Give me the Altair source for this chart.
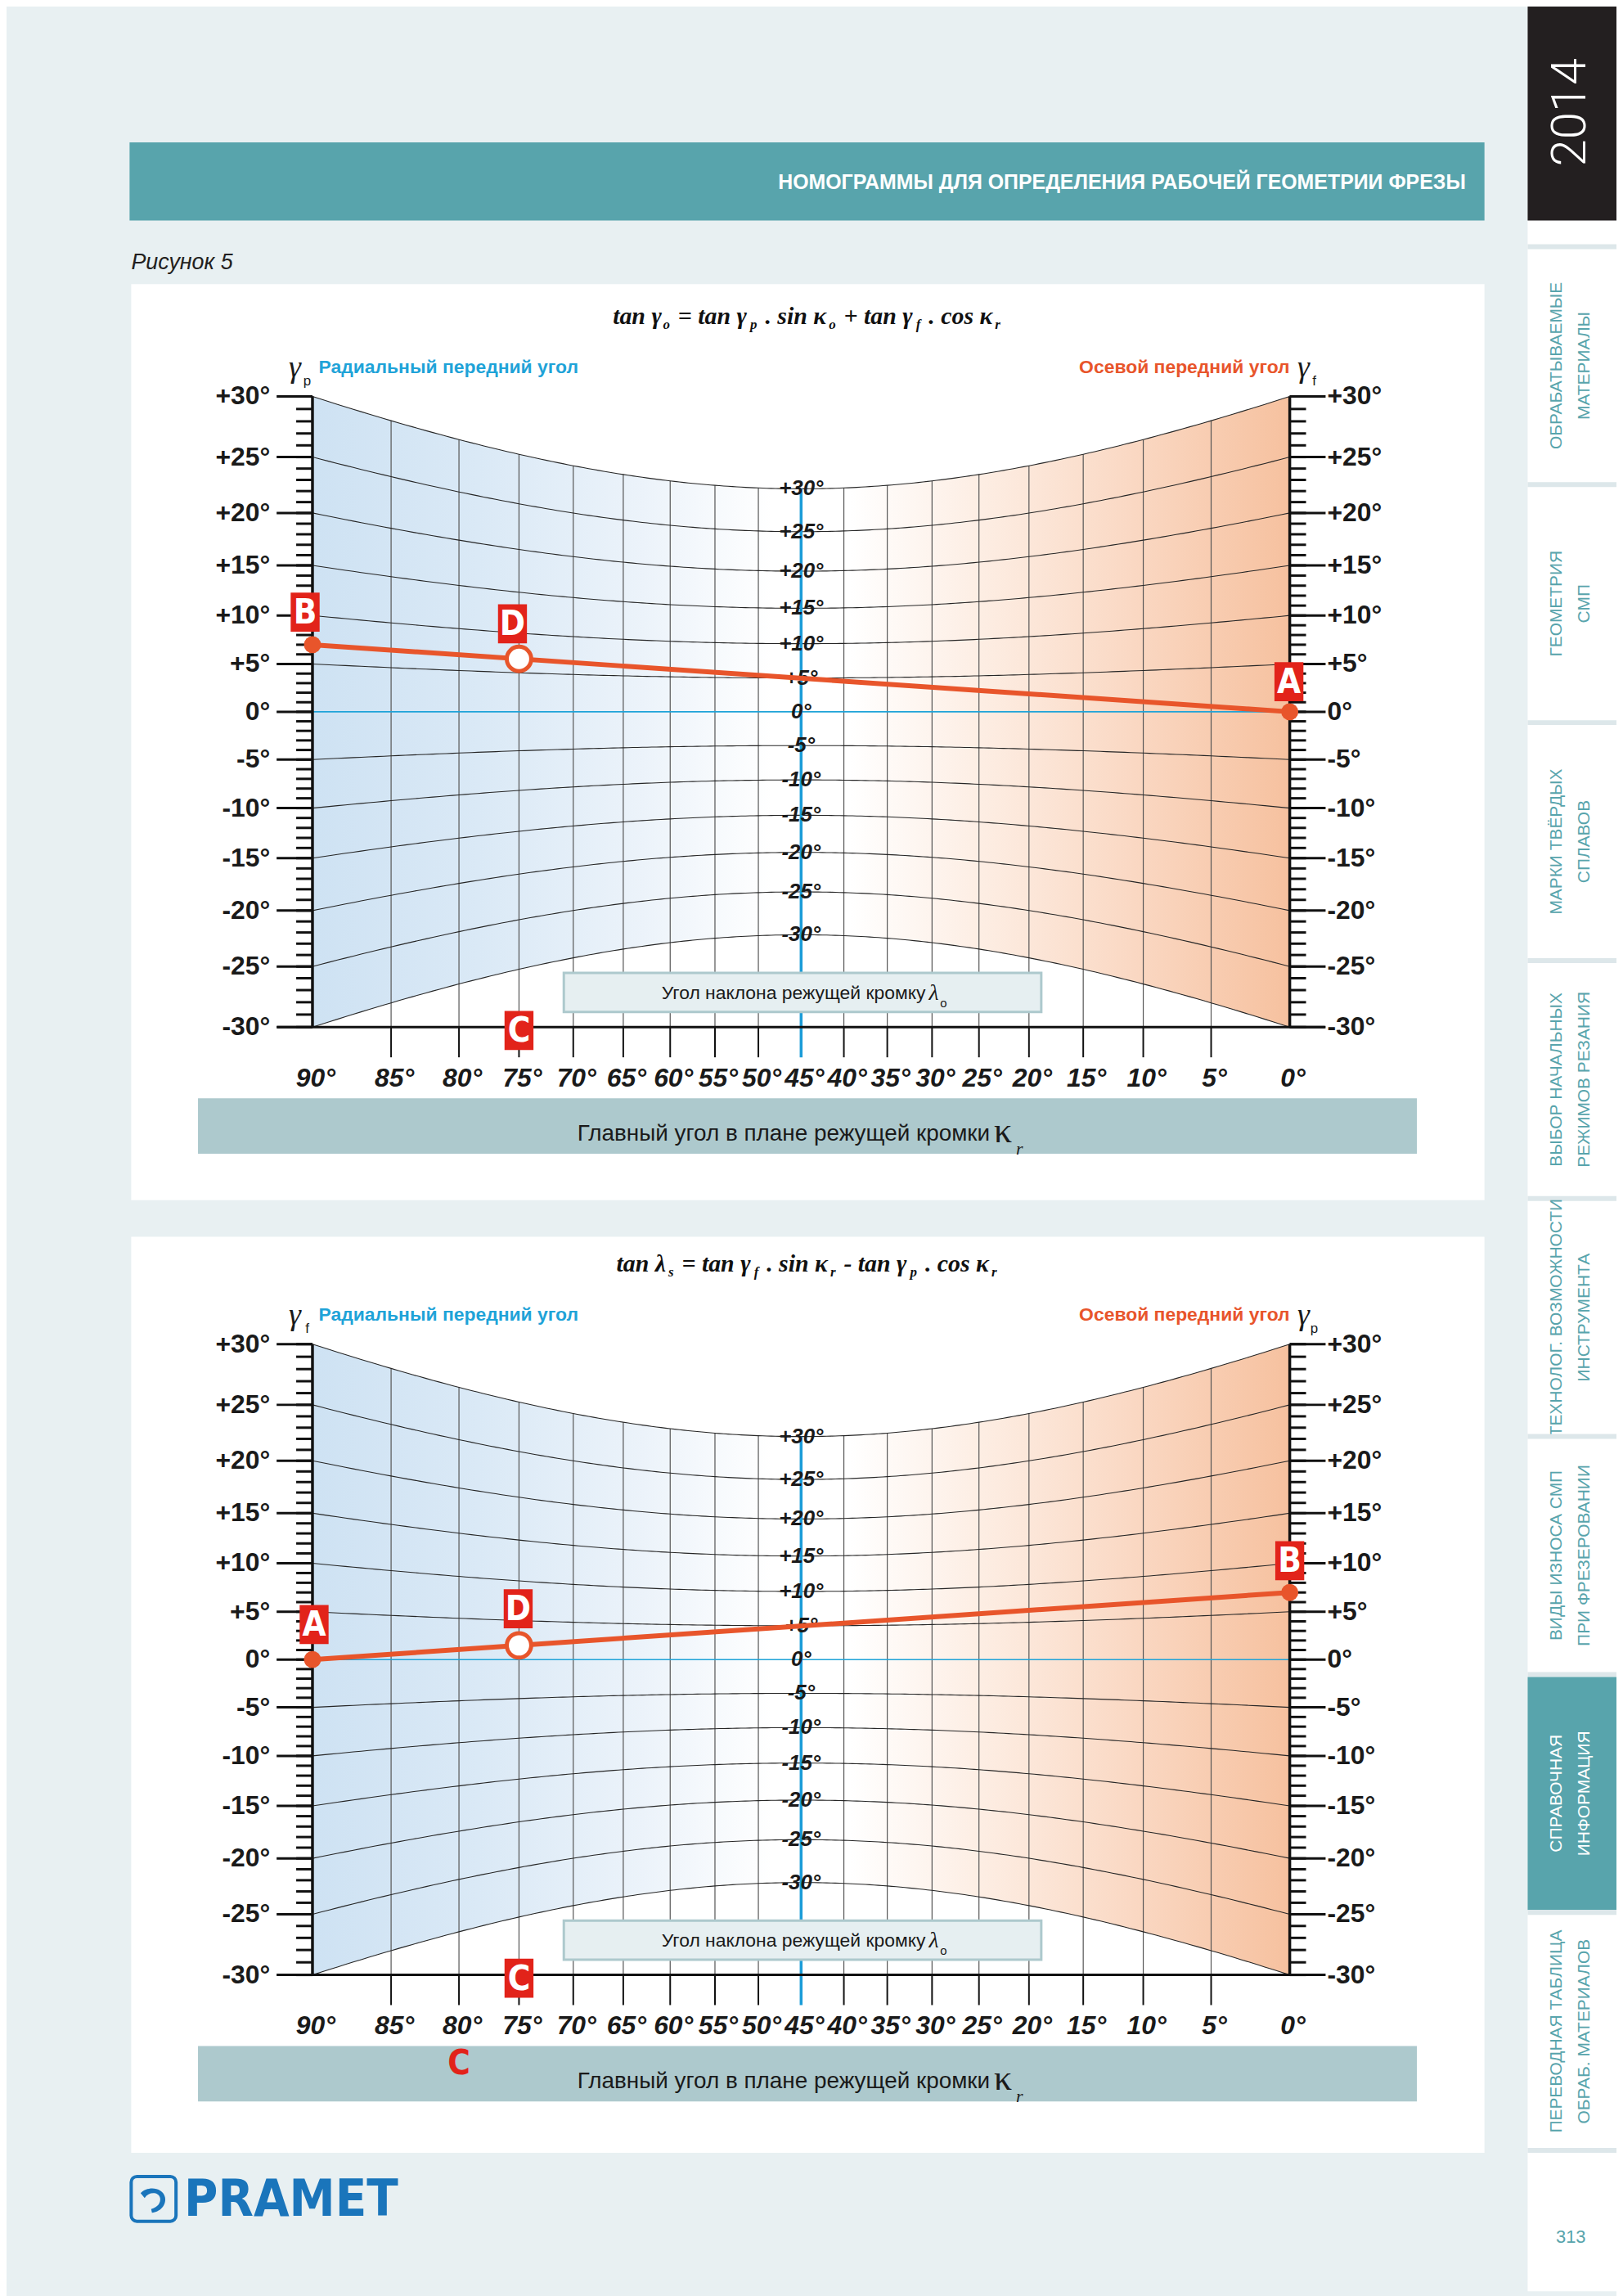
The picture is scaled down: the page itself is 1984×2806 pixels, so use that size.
import math
import pandas as pd
import altair as alt

# ---------------- values ----------------
KAPPA_TICKS = [90, 85, 80, 75, 70, 65, 60, 55, 50, 45, 40, 35, 30, 25, 20, 15, 10, 5, 0]
KAPPA_LABELS = ["90°", "85°", "80°", "75°", "70°", "65°", "60°", "55°", "50°", "45°",
                "40°", "35°", "30°", "25°", "20°", "15°", "10°", "5°", "0°"]
GAMMA_MAJOR = [30, 25, 20, 15, 10, 5, 0, -5, -10, -15, -20, -25, -30]
GAMMA_LABELS = ["+30°", "+25°", "+20°", "+15°", "+10°", "+5°", "0°",
                "-5°", "-10°", "-15°", "-20°", "-25°", "-30°"]
GAMMA_MINOR = list(range(-30, 31))
KAPPA_SAMPLES = [k / 2 for k in range(0, 181)]   # sampling of the nomogram construction curves

# worked examples (left-axis angle, right-axis angle, kappa of point D, kappa of C)
EX1 = {"left": 7, "right": 0, "d": 75, "c": 75}
EX2 = {"left": 0, "right": 7, "d": 75, "c": 75, "c_extra": 80}

FORMULA1 = [("tan γ", "m"), ("o", "s"), (" = tan γ", "m"), ("p", "s"), (" . sin κ", "m"), ("o", "s"),
            (" + tan γ", "m"), ("f", "s"), (" . cos κ", "m"), ("r", "s")]
FORMULA2 = [("tan λ", "m"), ("s", "s"), (" = tan γ", "m"), ("f", "s"), (" . sin κ", "m"), ("r", "s"),
            (" - tan γ", "m"), ("p", "s"), (" . cos κ", "m"), ("r", "s")]

TABS = [("ОБРАБАТЫВАЕМЫЕ", "МАТЕРИАЛЫ"), ("ГЕОМЕТРИЯ", "СМП"), ("МАРКИ ТВЁРДЫХ", "СПЛАВОВ"),
        ("ВЫБОР НАЧАЛЬНЫХ", "РЕЖИМОВ РЕЗАНИЯ"), ("ТЕХНОЛОГ. ВОЗМОЖНОСТИ", "ИНСТРУМЕНТА"),
        ("ВИДЫ ИЗНОСА СМП", "ПРИ ФРЕЗЕРОВАНИИ"), ("СПРАВОЧНАЯ", "ИНФОРМАЦИЯ"),
        ("ПЕРЕВОДНАЯ ТАБЛИЦА", "ОБРАБ. МАТЕРИАЛОВ")]
ACTIVE_TAB = 6
PAGE_NO = "313"
YEAR = "2014"

# ---------------- styles / geometry ----------------
W, H = 1976, 2798
BG = "#e8f0f2"
TEAL = "#58a4ac"
DARK = "#231f20"
RED_LINE = "#e8552b"
RED_BOX = "#e2231a"
CYAN = "#1fa3d8"
BLUE45 = "#1b9cd8"
BAR = "#adc9cd"
BOXFILL = "#e6eff1"
LOGO = "#1a75bb"
SANS = "Liberation Sans, Arial, sans-serif"
COND = "DejaVu Sans Condensed, Liberation Sans, sans-serif"
SERIF = "Liberation Serif, Times New Roman, serif"

AX_L, AX_R = 383.5, 1583.0
K = 670.3          # pixels per unit of tan on the nomogram scales
Y0 = 867.7         # page y of 0° in the first nomogram
DY2 = 1163         # vertical shift of the second nomogram
T30 = math.tan(math.radians(30))


def P(v):
    return v - 8


def t_of(k):
    r = math.radians(k)
    return math.cos(r) / (math.sin(r) + math.cos(r))


def sc_of(k):
    r = math.radians(k)
    return math.sin(r) + math.cos(r)


def tn(g):
    return math.tan(math.radians(g))


ONE = pd.DataFrame({"one": [1]})


def vrect(x1, y1, x2, y2, **kw):
    return alt.Chart(ONE).mark_rect(**kw).encode(
        x=alt.value(P(x1)), x2=alt.value(P(x2)), y=alt.value(P(y1)), y2=alt.value(P(y2)))


def vtext(x, y, s, **kw):
    kw.setdefault("baseline", "middle")
    return alt.Chart(ONE).mark_text(**kw).encode(
        x=alt.value(P(x)), y=alt.value(P(y)), text=alt.value(s))


EM = {'t': 0.278, 'a': 0.5, 'n': 0.556, ' ': 0.33, '=': 0.57, '.': 0.25, 's': 0.389, 'i': 0.278,
      'c': 0.444, 'o': 0.5, '+': 0.57, '-': 0.333, 'γ': 0.39, 'κ': 0.47, 'λ': 0.46, 'p': 0.5,
      'f': 0.333, 'r': 0.389}


def formula_layers(pieces, cx, cy):
    ms, ss = 30, 17
    widths = [sum(EM.get(ch, 0.5) for ch in s) * (ms if kind == "m" else ss) for s, kind in pieces]
    x = cx - sum(widths) / 2
    out = []
    for (s, kind), w in zip(pieces, widths):
        size = ms if kind == "m" else ss
        lead = len(s) - len(s.lstrip(" "))
        xs = x + lead * EM[' '] * size
        if kind == "m":
            out.append(vtext(xs, cy, s.strip(), align="left", baseline="alphabetic", font=SERIF,
                             fontStyle="italic", fontWeight="bold", fontSize=ms, color="#111"))
        else:
            out.append(vtext(xs, cy + 6, s.strip(), align="left", baseline="alphabetic", font=SERIF,
                             fontStyle="italic", fontWeight="bold", fontSize=ss, color="#111"))
        x += w
    return out


GRAD = alt.Gradient(
    gradient="linear", x1=0, x2=1, y1=0, y2=0,
    stops=[alt.GradientStop(color="#cee2f3", offset=0), alt.GradientStop(color="#dae9f6", offset=0.17),
           alt.GradientStop(color="#ecf3fa", offset=0.34), alt.GradientStop(color="#ffffff", offset=0.47),
           alt.GradientStop(color="#ffffff", offset=0.55), alt.GradientStop(color="#fdeee4", offset=0.68),
           alt.GradientStop(color="#fad8c3", offset=0.84), alt.GradientStop(color="#f6c19f", offset=1)])

BOX_SHAPE = "M-0.74,-1L0.74,-1L0.74,1L-0.74,1Z"


def panel(dy, ex, left_sym, right_sym, formula, letters):
    y0 = Y0 + dy
    XS = alt.Scale(domain=[0, 1], range=[P(AX_L), P(AX_R)], nice=False, zero=False)
    YS = alt.Scale(domain=[-1, 1], range=[P(y0 + K), P(y0 - K)], nice=False, zero=False)

    def X(f="t"):
        return alt.X(f"{f}:Q", scale=XS, axis=None)

    def Y(f="y"):
        return alt.Y(f"{f}:Q", scale=YS, axis=None)

    L = []
    # shaded field between the +30° and -30° curves
    shade = pd.DataFrame({"t": [t_of(k) for k in KAPPA_SAMPLES],
                          "y": [T30 / sc_of(k) for k in KAPPA_SAMPLES],
                          "y2": [-T30 / sc_of(k) for k in KAPPA_SAMPLES]})
    L.append(alt.Chart(shade).mark_area(color=GRAD, opacity=1).encode(x=X(), y=Y(), y2=alt.Y2("y2")))

    # vertical kappa lines
    inner = [k for k in KAPPA_TICKS if k not in (0, 45, 90)]
    vgrid = pd.DataFrame({"t": [t_of(k) for k in inner], "y": [T30 / sc_of(k) for k in inner],
                          "y2": [-T30] * len(inner)})
    L.append(alt.Chart(vgrid).mark_rule(color="#555", strokeWidth=1.2).encode(x=X(), y=Y(), y2=alt.Y2("y2")))
    L.append(alt.Chart(vgrid).mark_rule(color="#111", strokeWidth=2).encode(
        x=X(), y=alt.Y("y2:Q", scale=YS, axis=None), y2=alt.value(P(y0 + K * T30 + 37))))

    # gamma_o curves
    rows = []
    for g in GAMMA_MAJOR:
        if g == 0:
            continue
        for k in KAPPA_SAMPLES:
            rows.append({"g": g, "t": t_of(k), "y": tn(g) / sc_of(k)})
    curves = pd.DataFrame(rows)
    L.append(alt.Chart(curves).mark_line(color="#262626", strokeWidth=1.1).encode(
        x=X(), y=Y(), detail="g:N"))

    # zero line, 45° line, baseline
    L.append(alt.Chart(pd.DataFrame({"y": [0.0]})).mark_rule(color=CYAN, strokeWidth=1.6).encode(
        x=alt.value(P(340)), x2=alt.value(P(1626)), y=Y()))
    b45 = pd.DataFrame({"t": [0.5], "y": [T30 / sc_of(45)]})
    L.append(alt.Chart(b45).mark_rule(color=BLUE45, strokeWidth=3.5).encode(
        x=X(), y=Y(), y2=alt.value(P(y0 + K * T30 + 37))))
    L.append(alt.Chart(pd.DataFrame({"y": [-T30]})).mark_rule(color="#111", strokeWidth=3).encode(
        x=alt.value(P(340)), x2=alt.value(P(1626)), y=Y()))

    # the two vertical scales
    axl = pd.DataFrame({"y": [T30], "y2": [-T30]})
    for ax in (AX_L, AX_R):
        L.append(alt.Chart(axl).mark_rule(color="#111", strokeWidth=3.5).encode(
            x=alt.value(P(ax)), y=Y(), y2=alt.Y2("y2")))
    minor = pd.DataFrame({"y": [tn(g) for g in GAMMA_MINOR]})
    major = pd.DataFrame({"y": [tn(g) for g in GAMMA_MAJOR], "label": GAMMA_LABELS})
    L.append(alt.Chart(minor).mark_rule(color="#111", strokeWidth=3).encode(
        x=alt.value(P(AX_L - 20)), x2=alt.value(P(AX_L)), y=Y()))
    L.append(alt.Chart(minor).mark_rule(color="#111", strokeWidth=3).encode(
        x=alt.value(P(AX_R)), x2=alt.value(P(AX_R + 20)), y=Y()))
    L.append(alt.Chart(major).mark_rule(color="#111", strokeWidth=3).encode(
        x=alt.value(P(AX_L - 44)), x2=alt.value(P(AX_L)), y=Y()))
    L.append(alt.Chart(major).mark_rule(color="#111", strokeWidth=3).encode(
        x=alt.value(P(AX_R)), x2=alt.value(P(AX_R + 44)), y=Y()))
    L.append(alt.Chart(major).mark_text(align="right", baseline="middle", font=SANS, fontWeight="bold",
                                        fontSize=32, color="#1a1a1a").encode(
        x=alt.value(P(AX_L - 52)), y=Y(), text="label:N"))
    L.append(alt.Chart(major).mark_text(align="left", baseline="middle", font=SANS, fontWeight="bold",
                                        fontSize=32, color="#1a1a1a").encode(
        x=alt.value(P(AX_R + 46)), y=Y(), text="label:N"))

    # labels along the 45° line
    cl = pd.DataFrame({"t": [0.5] * len(GAMMA_MAJOR),
                       "y": [tn(g) / sc_of(45) for g in GAMMA_MAJOR], "label": GAMMA_LABELS})
    L.append(alt.Chart(cl).mark_text(align="center", baseline="middle", font=SANS, fontWeight="bold",
                                     fontStyle="italic", fontSize=26, color="#1a1a1a").encode(
        x=X(), y=Y(), text="label:N"))

    # kappa labels
    kl = pd.DataFrame({"t": [t_of(k) for k in KAPPA_TICKS], "label": KAPPA_LABELS})
    L.append(alt.Chart(kl).mark_text(align="center", baseline="middle", font=SANS, fontWeight="bold",
                                     fontStyle="italic", fontSize=32, dx=4, color="#1a1a1a").encode(
        x=X(), y=alt.value(P(y0 + 450)), text="label:N"))

    # titles and symbols
    L.append(vtext(362, 446 + dy, "γ", align="center", font=SERIF, fontStyle="italic", fontSize=38, color="#1a1a1a"))
    L.append(vtext(377, 462 + dy, left_sym, align="center", font=SANS, fontSize=17, color="#1a1a1a"))
    L.append(vtext(391, 445 + dy, "Радиальный передний угол", align="left", font=SANS, fontWeight="bold",
                   fontSize=23, color=CYAN))
    L.append(vtext(1600, 446 + dy, "γ", align="center", font=SERIF, fontStyle="italic", fontSize=38, color="#1a1a1a"))
    L.append(vtext(1613, 462 + dy, right_sym, align="center", font=SANS, fontSize=17, color="#1a1a1a"))
    L.append(vtext(1583, 445 + dy, "Осевой передний угол", align="right", font=SANS, fontWeight="bold",
                   fontSize=23, color=RED_LINE))
    L.extend(formula_layers(formula, 990, 392 + dy))

    # lambda box
    L.append(vrect(692, 1188 + dy, 1278, 1236 + dy, fill=BOXFILL, stroke=BAR, strokeWidth=3))
    L.append(vtext(1136, 1213 + dy, "Угол наклона режущей кромку", align="right", font=SANS, fontSize=23, color="#1a1a1a"))
    L.append(vtext(1140, 1213 + dy, "λ", align="left", font=SERIF, fontStyle="italic", fontSize=28, color="#1a1a1a"))
    L.append(vtext(1154, 1225 + dy, "o", align="left", font=SANS, fontSize=15, color="#1a1a1a"))

    # kappa bar
    L.append(vrect(243, 1342 + dy, 1739, 1410 + dy, fill=BAR))
    L.append(vtext(1215, 1386 + dy, "Главный угол в плане режущей кромки", align="right", font=SANS,
                   fontSize=28, color="#1a1a1a"))
    L.append(vtext(1220, 1383 + dy, "κ", align="left", font=SERIF, fontSize=44, color="#1a1a1a"))
    L.append(vtext(1247, 1404 + dy, "r", align="left", font=SERIF, fontStyle="italic", fontSize=22, color="#1a1a1a"))

    # worked example line
    gl, gr, kd = ex["left"], ex["right"], ex["d"]
    line = pd.DataFrame({"t": [0.0, 1.0], "y": [tn(gl), tn(gr)]})
    L.append(alt.Chart(line).mark_line(color=RED_LINE, strokeWidth=6).encode(x=X(), y=Y()))
    L.append(alt.Chart(line).mark_circle(color=RED_LINE, size=440, opacity=1).encode(x=X(), y=Y()))
    rd = math.radians(kd)
    d_y = (tn(gl) * math.sin(rd) + tn(gr) * math.cos(rd)) / sc_of(kd)
    dpt = pd.DataFrame({"t": [t_of(kd)], "y": [d_y]})
    L.append(alt.Chart(dpt).mark_point(shape="circle", filled=True, fill="white", stroke=RED_LINE,
                                       strokeWidth=5, size=900, opacity=1).encode(x=X(), y=Y()))

    pos = {"left": (0.0, tn(gl)), "right": (1.0, tn(gr)), "d": (t_of(kd), d_y), "c": (t_of(ex["c"]), -T30)}
    for letter, where, xo, yo in letters:
        tt, yy = pos[where]
        dfl = pd.DataFrame({"t": [tt], "y": [yy]})
        L.append(alt.Chart(dfl).mark_point(shape=BOX_SHAPE, size=2304, filled=True, fill=RED_BOX,
                                           strokeWidth=0, opacity=1, xOffset=xo, yOffset=yo).encode(x=X(), y=Y()))
        L.append(alt.Chart(dfl).mark_text(text=letter, font=COND, fontWeight="bold", fontSize=42,
                                          color="white", align="center", baseline="middle",
                                          dx=xo, dy=yo + 1).encode(x=X(), y=Y()))
    if "c_extra" in ex:
        ce = pd.DataFrame({"t": [t_of(ex["c_extra"])]})
        L.append(alt.Chart(ce).mark_text(text="C", font=COND, fontWeight="bold", fontSize=42,
                                         color=RED_BOX, align="center", baseline="middle").encode(
            x=X(), y=alt.value(P(y0 + 496))))
    return alt.layer(*L)


# ---------------- page decoration ----------------
bg = []
bg.append(vrect(159, 169, 1822, 265, fill=TEAL))
bg.append(vtext(1799, 218, "НОМОГРАММЫ ДЛЯ ОПРЕДЕЛЕНИЯ РАБОЧЕЙ ГЕОМЕТРИИ ФРЕЗЫ", align="right",
                font=SANS, fontWeight="bold", fontSize=25, color="white"))
bg.append(vtext(161, 317, "Рисунок 5", align="left", font=SANS, fontStyle="italic", fontSize=27, color=DARK))
bg.append(vrect(161, 343, 1822, 1467, fill="white"))
bg.append(vrect(161, 1512, 1822, 2636, fill="white"))
# sidebar
bg.append(vrect(1875, 0, 1984, 2806, fill="white"))
bg.append(vrect(1875, 0, 1984, 265, fill=DARK))
bg.append(vtext(1928, 132, YEAR, align="center", angle=270, font="Roboto, Liberation Sans, sans-serif",
                fontWeight=300, fontSize=60, color="white"))
for i, (l1, l2) in enumerate(TABS):
    top = 300 + 292 * i
    bottom = top + 286
    bg.append(vrect(1875, top - 6, 1984, top, fill="#dde7ea"))
    active = i == ACTIVE_TAB
    if active:
        bg.append(vrect(1875, top, 1984, bottom, fill=TEAL))
    col = "white" if active else TEAL
    mid = (top + bottom) / 2
    bg.append(vtext(1911, mid, l1, align="center", angle=270, font=SANS, fontSize=21, color=col))
    bg.append(vtext(1945, mid, l2, align="center", angle=270, font=SANS, fontSize=21, color=col))
bg.append(vrect(1875, 2630, 1984, 2636, fill="#dde7ea"))
bg.append(vtext(1928, 2739, PAGE_NO, align="center", font=SANS, fontSize=22, color=TEAL))
# logo
bg.append(vrect(161, 2665, 216, 2720, fillOpacity=0, stroke=LOGO, strokeWidth=4, cornerRadius=7))
SWOOSH = ("M-0.8,-0.35C-0.4,-0.8 0.55,-0.75 0.7,-0.1C0.8,0.4 0.4,0.8 -0.1,0.85L-0.15,0.62"
          "C0.25,0.52 0.45,0.25 0.4,-0.05C0.3,-0.45 -0.3,-0.45 -0.55,-0.05Z")
bg.append(alt.Chart(ONE).mark_point(shape=SWOOSH, size=1600, filled=True, color=LOGO, opacity=1).encode(
    x=alt.value(P(188.5)), y=alt.value(P(2692.5))))
bg.append(vtext(226, 2694, "PRAMET", align="left", font=COND, fontWeight="bold", fontSize=63, color=LOGO))

p1 = panel(0, EX1, "p", "f", FORMULA1,
           [("B", "left", -9, -40), ("D", "d", -8, -43), ("A", "right", -1, -37), ("C", "c", 0, 4)])
p2 = panel(DY2, EX2, "f", "p", FORMULA2,
           [("A", "left", 2, -43), ("D", "d", -1, -45), ("B", "right", 0, -39), ("C", "c", 0, 4)])

chart = alt.layer(*bg, p1, p2).resolve_scale(x="independent", y="independent").properties(
    width=W, height=H, background=BG, padding=0,
    autosize=alt.AutoSizeParams(type="none")).configure_view(stroke=None)

chart.save("out.html", embed_options={"renderer": "svg", "actions": False})
